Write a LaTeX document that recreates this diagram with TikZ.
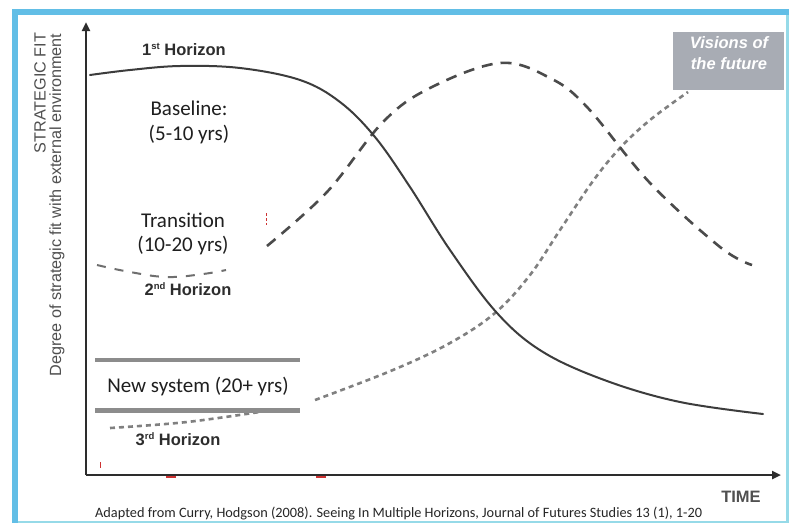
\documentclass[tikz,border=0pt]{standalone}
\usepackage{fontspec}
\setmainfont{Carlito}
\newfontfamily\arialf{Liberation Sans}
\usetikzlibrary{arrows.meta}

\definecolor{frameblue}{RGB}{98,190,230}
\definecolor{framecyan}{RGB}{150,218,232}
\definecolor{inkdark}{RGB}{45,45,45}
\definecolor{curvegray}{RGB}{60,60,60}
\definecolor{dashgray}{RGB}{75,75,75}
\definecolor{dotgray}{RGB}{128,128,128}
\definecolor{bargray}{RGB}{140,140,140}
\definecolor{boxgray}{RGB}{168,172,180}
\definecolor{labelgray}{RGB}{80,80,80}
\definecolor{markred}{RGB}{205,50,50}

% small raised ordinal suffix
\newcommand{\ordsfx}[1]{\raisebox{0.62ex}{\fontsize{9.5}{10}\selectfont #1}}

\tikzset{
  axisline/.style={line width=2.4pt, draw=inkdark, -{Triangle[length=9pt,width=8pt]}},
  firsth/.style={line width=2pt, draw=curvegray, line cap=round},
  secondh/.style={line width=2.6pt, draw=dashgray, dash pattern=on 11pt off 8pt},
  thirdh/.style={line width=2.6pt, draw=dotgray, dash pattern=on 5pt off 4pt},
  hlabel/.style={font=\arialf\bfseries\fontsize{16.5}{19}\selectfont, text=inkdark, anchor=base, inner sep=0pt},
  phase/.style={font=\fontsize{21}{25}\selectfont, text=black!88, anchor=base, inner sep=0pt},
  axistitle/.style={font=\arialf\fontsize{16.2}{19}\selectfont, text=labelgray, rotate=90, inner sep=0pt},
  phasebar/.style={draw=bargray},
  redmark/.style={draw=markred, line width=1.2pt},
}

\begin{document}
\begin{tikzpicture}[x=1pt, y=-1pt]
  \useasboundingbox (0,0) rectangle (791,523);

  % slide frame: heavy blue top and left edges, thin cyan right and bottom edges
  \fill[white] (0,0) rectangle (791,523);
  \fill[framecyan] (12,9) rectangle (789,523);
  \fill[frameblue] (12,9) rectangle (789,15);
  \fill[frameblue] (12,9) rectangle (18,523);
  \fill[white] (18,15) rectangle (786,521);

  % axes
  \coordinate (origin) at (86,475);
  \coordinate (ytop) at (86,22);
  \coordinate (xend) at (781,475);
  \draw[axisline] (origin) -- (ytop);
  \draw[axisline] (origin) -- (xend);

  % axis titles
  \node[axistitle] (yt1) at (40,93) {STRATEGIC FIT};
  \node[axistitle] (yt2) at (57,205) {Degree of strategic fit with external environment};
  \node[font=\arialf\bfseries\fontsize{16.5}{20}\selectfont, text=labelgray, anchor=base, inner sep=0pt] (time) at (741,502) {TIME};

  % third horizon (behind the others)
  \draw[thirdh] plot[smooth, tension=0.6] coordinates {(110,428) (187,422) (266,411)};
  \draw[thirdh] plot[smooth, tension=0.6] coordinates {(315,400) (393,370) (450,343) (495,313) (530,275) (560,230) (593,181) (620,148) (650,120) (688,92)};

  % second horizon
  \draw[secondh, line width=2pt, draw=dashgray!80, dash pattern=on 9pt off 9pt] plot[smooth, tension=0.7] coordinates {(97,265) (130,272) (167,277) (203,274) (226,270)};
  \draw[secondh] plot[smooth, tension=0.6] coordinates {(267,246) (327,192) (383,122) (430,88) (500,63) (550,78) (587,107) (650,183) (720,247) (752,265)};

  % first horizon
  \draw[firsth] plot[smooth, tension=0.6] coordinates {(90,75) (130,70) (180,66) (240,68) (300,80) (340,102) (375,137) (410,187) (450,250) (497,313) (543,352) (607,381) (680,402) (763,414)};

  % visions box
  \node[fill=boxgray, minimum width=111pt, minimum height=58pt, inner sep=0pt, anchor=north west] (vbox) at (673,32) {};
  \node[font=\arialf\bfseries\itshape\fontsize{16.5}{19}\selectfont, text=white, anchor=base, inner sep=0pt] (vis1) at (729,48) {Visions of};
  \node[font=\arialf\bfseries\itshape\fontsize{16.5}{19}\selectfont, text=white, anchor=base, inner sep=0pt] (vis2) at (729,69) {the future};

  % horizon labels
  \node[hlabel] (h1) at (184,55) {1\ordsfx{st} Horizon};
  \node[hlabel] (h2) at (188,295) {2\ordsfx{nd} Horizon};
  \node[hlabel] (h3) at (178,445) {3\ordsfx{rd} Horizon};

  % phase labels
  \node[phase] (bl1) at (189,115) {Baseline:};
  \node[phase] (bl2) at (189,140) {(5-10 yrs)};
  \node[phase] (tr1) at (183,227) {Transition};
  \node[phase] (tr2) at (183,251) {(10-20 yrs)};
  \node[phase] (ns) at (198,392) {New system (20+ yrs)};

  % bars framing the new system label
  \coordinate (bar1a) at (95,360);
  \coordinate (bar1b) at (300,360);
  \coordinate (bar2a) at (95,410);
  \coordinate (bar2b) at (300,410);
  \draw[phasebar, line width=3.2pt] (bar1a) -- (bar1b);
  \draw[phasebar, line width=5pt] (bar2a) -- (bar2b);

  % small red marks
  \draw[redmark] (166,477) -- (176,477);
  \draw[redmark] (316,477) -- (326,477);
  \draw[redmark, line width=0.8pt] (100,462) -- (100,468);
  \draw[redmark, dash pattern=on 3pt off 2pt, line width=0.6pt] (266,213) -- (266,225);

  % source line
  \node[font=\fontsize{14.3}{17}\selectfont, text=black!85, anchor=base west, inner sep=0pt] (src) at (95,517) {Adapted from Curry, Hodgson (2008). Seeing In Multiple Horizons, Journal of Futures Studies 13 (1), 1-20};
\end{tikzpicture}
\end{document}
